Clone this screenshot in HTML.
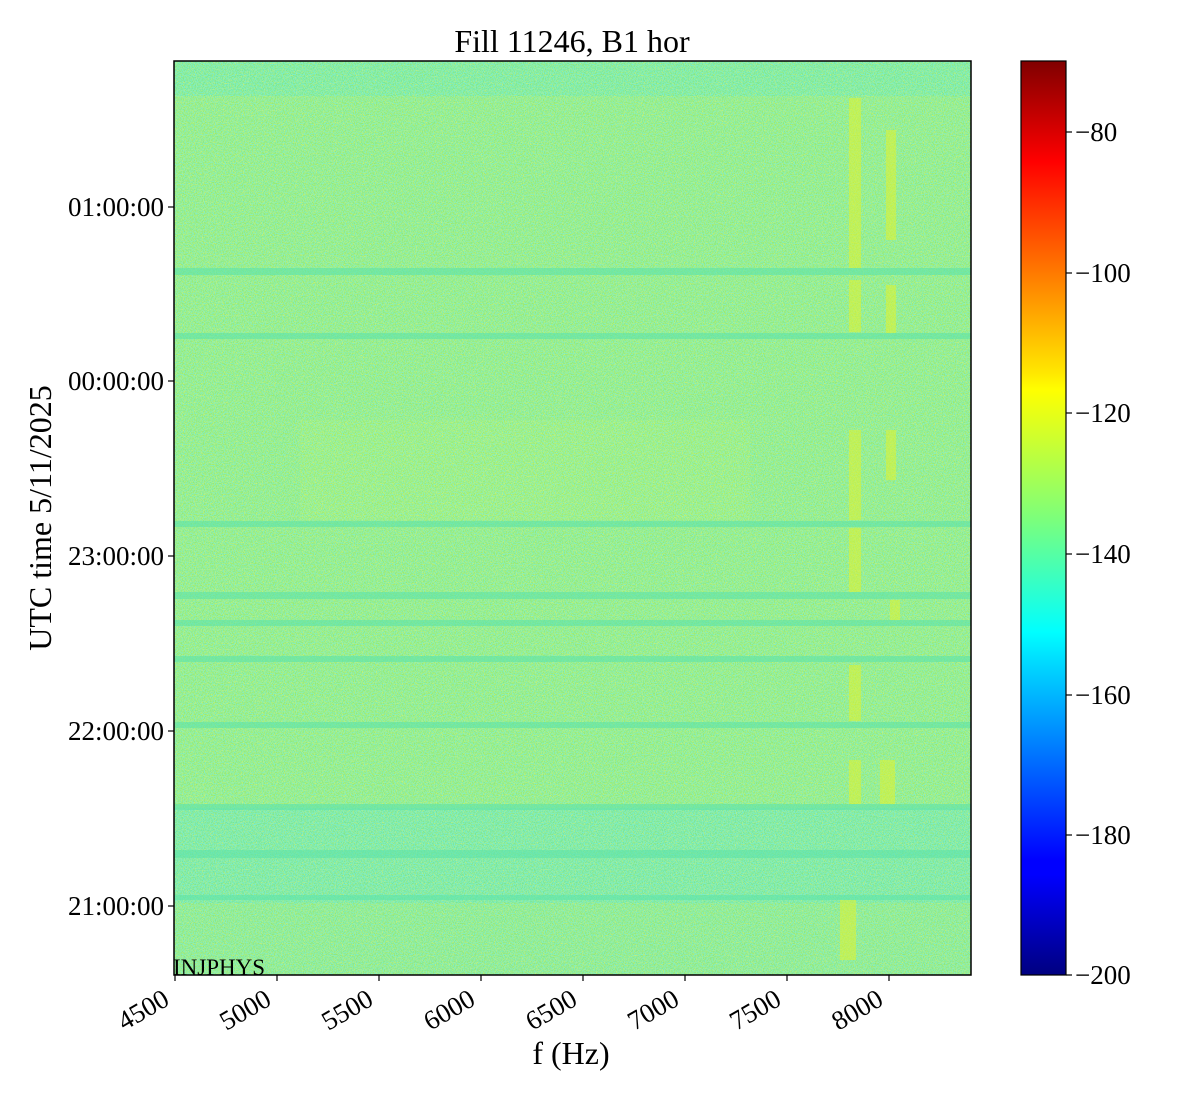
<!DOCTYPE html>
<html><head><meta charset="utf-8"><style>
html,body{margin:0;padding:0;background:#fff;}
svg text{font-family:"Liberation Serif",serif;fill:#000;}
</style></head><body>
<svg width="1200" height="1100" viewBox="0 0 1200 1100" xmlns="http://www.w3.org/2000/svg">
<defs>
<filter id="nz" x="0" y="0" width="100%" height="100%">
<feTurbulence type="fractalNoise" baseFrequency="0.9" numOctaves="1" seed="3" result="t"/>
<feColorMatrix in="t" type="matrix" values="0 0 0 0 0.2  0 0 0 0 0.9  0 0 0 0 0.95  0 0 0 4 -1.6"/>
</filter>
<filter id="nz2" x="0" y="0" width="100%" height="100%">
<feTurbulence type="fractalNoise" baseFrequency="0.85" numOctaves="1" seed="11" result="t"/>
<feColorMatrix in="t" type="matrix" values="0 0 0 0 0.85  0 0 0 0 0.95  0 0 0 0 0.2  0 0 0 4 -1.7"/>
</filter>
<linearGradient id="jet" x1="0" y1="1" x2="0" y2="0">
<stop offset="0" stop-color="#000080"/>
<stop offset="0.11" stop-color="#0000ff"/>
<stop offset="0.125" stop-color="#0000ff"/>
<stop offset="0.34" stop-color="#00d8ff"/>
<stop offset="0.375" stop-color="#00ffff"/>
<stop offset="0.5" stop-color="#7dff7a"/>
<stop offset="0.64" stop-color="#ffff00"/>
<stop offset="0.66" stop-color="#ffe600"/>
<stop offset="0.89" stop-color="#ff0000"/>
<stop offset="1" stop-color="#800000"/>
</linearGradient>
<clipPath id="cp"><rect x="174" y="61" width="797" height="914"/></clipPath>
</defs>
<g clip-path="url(#cp)">
<rect x="174" y="61" width="797" height="914" fill="#94ea74"/>
<rect x="174" y="61" width="797" height="35" fill="#7ee88c"/>
<rect x="174" y="808" width="797" height="95" fill="#7ae692"/>
<rect x="174" y="903" width="797" height="72" fill="#8ee87c"/>
<rect x="300" y="420" width="450" height="100" fill="#a6ee66" opacity="0.5"/>
<g opacity="0.55">
<rect x="174" y="61" width="797" height="914" filter="url(#nz2)"/>
<rect x="174" y="61" width="797" height="914" filter="url(#nz)"/>
</g>
<g fill="#5ee4aa" opacity="0.6">
<rect x="174" y="268" width="797" height="7"/>
<rect x="174" y="333" width="797" height="6"/>
<rect x="174" y="521" width="797" height="6"/>
<rect x="174" y="592" width="797" height="7"/>
<rect x="174" y="620" width="797" height="6"/>
<rect x="174" y="656" width="797" height="6"/>
<rect x="174" y="722" width="797" height="6"/>
<rect x="174" y="804" width="797" height="6"/>
<rect x="174" y="850" width="797" height="8"/>
<rect x="174" y="895" width="797" height="5"/>
</g>
<g fill="#e0f42e" opacity="0.55">
<rect x="849" y="98" width="12" height="170"/>
<rect x="849" y="280" width="12" height="52"/>
<rect x="849" y="430" width="12" height="90"/>
<rect x="849" y="528" width="12" height="64"/>
<rect x="849" y="665" width="12" height="56"/>
<rect x="849" y="760" width="12" height="44"/>
<rect x="840" y="900" width="16" height="60"/>
<rect x="886" y="130" width="10" height="110"/>
<rect x="886" y="285" width="10" height="48"/>
<rect x="886" y="430" width="10" height="50"/>
<rect x="880" y="760" width="15" height="44"/>
<rect x="890" y="600" width="10" height="20"/>
</g>
</g>
<rect x="174" y="61" width="797" height="914" fill="none" stroke="#000" stroke-width="1.5"/>
<text x="173" y="975" font-size="23">INJPHYS</text>
<text x="572" y="52" font-size="32" text-anchor="middle">Fill 11246, B1 hor</text>
<g stroke="#000" stroke-width="1.2">
<line x1="175" y1="975" x2="175" y2="981"/><line x1="277" y1="975" x2="277" y2="981"/><line x1="379" y1="975" x2="379" y2="981"/><line x1="481" y1="975" x2="481" y2="981"/><line x1="583" y1="975" x2="583" y2="981"/><line x1="685" y1="975" x2="685" y2="981"/><line x1="787" y1="975" x2="787" y2="981"/><line x1="889" y1="975" x2="889" y2="981"/>
<line x1="168" y1="207" x2="174" y2="207"/><line x1="168" y1="381" x2="174" y2="381"/><line x1="168" y1="556" x2="174" y2="556"/><line x1="168" y1="731" x2="174" y2="731"/><line x1="168" y1="906" x2="174" y2="906"/>
</g>
<g font-size="27" text-anchor="end">
<text transform="translate(171,1004) rotate(-30)">4500</text>
<text transform="translate(273,1004) rotate(-30)">5000</text>
<text transform="translate(375,1004) rotate(-30)">5500</text>
<text transform="translate(477,1004) rotate(-30)">6000</text>
<text transform="translate(579,1004) rotate(-30)">6500</text>
<text transform="translate(681,1004) rotate(-30)">7000</text>
<text transform="translate(783,1004) rotate(-30)">7500</text>
<text transform="translate(885,1004) rotate(-30)">8000</text>
<text x="164" y="216">01:00:00</text>
<text x="164" y="390">00:00:00</text>
<text x="164" y="565">23:00:00</text>
<text x="164" y="740">22:00:00</text>
<text x="164" y="915">21:00:00</text>
</g>
<text x="571" y="1064" font-size="32" text-anchor="middle">f (Hz)</text>
<text transform="translate(51,518) rotate(-90)" font-size="32" text-anchor="middle">UTC time 5/11/2025</text>
<rect x="1021" y="61" width="45" height="914" fill="url(#jet)" stroke="#000" stroke-width="1.2"/>
<g stroke="#000" stroke-width="1.2">
<line x1="1066" y1="132" x2="1072" y2="132"/><line x1="1066" y1="273" x2="1072" y2="273"/><line x1="1066" y1="413" x2="1072" y2="413"/><line x1="1066" y1="554" x2="1072" y2="554"/><line x1="1066" y1="695" x2="1072" y2="695"/><line x1="1066" y1="835" x2="1072" y2="835"/><line x1="1066" y1="975" x2="1072" y2="975"/>
</g>
<g font-size="27">
<text x="1075" y="141">−80</text>
<text x="1075" y="282">−100</text>
<text x="1075" y="422">−120</text>
<text x="1075" y="563">−140</text>
<text x="1075" y="704">−160</text>
<text x="1075" y="844">−180</text>
<text x="1075" y="984">−200</text>
</g>
</svg>
</body></html>
